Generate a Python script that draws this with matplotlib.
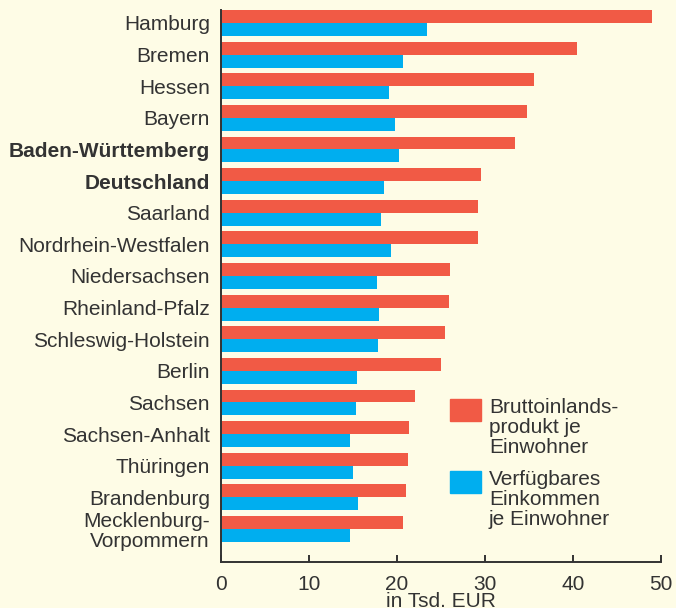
import matplotlib.pyplot as plt
import numpy as np
from matplotlib.patches import Rectangle

plt.rcParams['font.family'] = ['Liberation Sans', 'DejaVu Sans']

laender = ['Hamburg', 'Bremen', 'Hessen', 'Bayern', 'Baden-Württemberg', 'Deutschland',
           'Saarland', 'Nordrhein-Westfalen', 'Niedersachsen', 'Rheinland-Pfalz',
           'Schleswig-Holstein', 'Berlin', 'Sachsen', 'Sachsen-Anhalt', 'Thüringen',
           'Brandenburg', 'Mecklenburg-\nVorpommern']
bip = [49.0, 40.5, 35.6, 34.8, 33.4, 29.5, 29.2, 29.2, 26.0, 25.9, 25.5, 25.0,
       22.0, 21.4, 21.3, 21.0, 20.7]
einkommen = [23.4, 20.7, 19.1, 19.8, 20.2, 18.5, 18.2, 19.3, 17.7, 18.0, 17.8, 15.5,
             15.3, 14.7, 15.0, 15.6, 14.7]
fett = ['Baden-Württemberg', 'Deutschland']
legende = ['Bruttoinlands-\nprodukt je\nEinwohner', 'Verfügbares\nEinkommen\nje Einwohner']

bg = '#fefce6'
rot = '#f15a45'
blau = '#00aeef'
grau = '#333333'
fs = 15

fig = plt.figure(figsize=(6.76, 6.08), dpi=100, facecolor=bg)
ax = fig.add_axes([221 / 676, 1 - 562 / 608, 440 / 676, 552 / 608], facecolor=bg)

y = np.arange(len(laender))
h = 0.41
ax.barh(y - h / 2, bip, height=h, color=rot, label=legende[0])
ax.barh(y + h / 2, einkommen, height=h, color=blau, label=legende[1])

ax.set_xlim(0, 50)
ax.set_ylim(16 + 33 / 31.6, -0.41)
ax.set_yticks(y)
ax.set_yticklabels(laender, fontsize=fs, color=grau, linespacing=1.05)
for t in ax.get_yticklabels():
    if t.get_text() in fett:
        t.set_fontweight('bold')
ax.tick_params(axis='y', length=0, pad=8)
ax.set_xticks([0, 10, 20, 30, 40, 50])
ax.tick_params(axis='x', direction='in', length=5, width=1.4, color=grau,
               labelsize=fs, labelcolor=grau, pad=9)
ax.set_xlabel('in Tsd. EUR', fontsize=fs, color=grau, labelpad=-1)

for s in ['top', 'right']:
    ax.spines[s].set_visible(False)
for s in ['left', 'bottom']:
    ax.spines[s].set_color(grau)
    ax.spines[s].set_linewidth(1.4)

# Legende von Hand
for farbe, text, ytop in [(rot, legende[0], 399), (blau, legende[1], 471)]:
    fig.patches.append(Rectangle((450 / 676, 1 - (ytop + 22) / 608), 31 / 676, 22 / 608,
                                 transform=fig.transFigure, color=farbe))
    fig.text(489 / 676, 1 - (ytop - 1) / 608, text, fontsize=fs, color=grau,
             va='top', ha='left', linespacing=1.08)

plt.savefig('out.png', dpi=100, facecolor=bg)
